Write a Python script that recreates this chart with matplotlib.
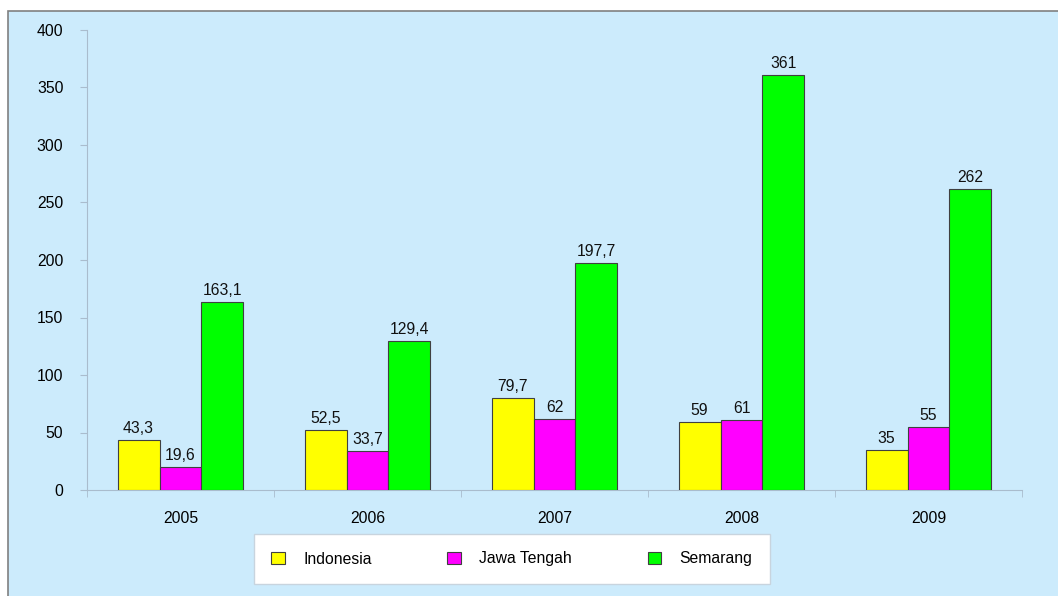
import numpy as np
import matplotlib
matplotlib.use("Agg")
import matplotlib.pyplot as plt
from matplotlib.patches import Rectangle

years = ["2005", "2006", "2007", "2008", "2009"]
series = ["Indonesia", "Jawa Tengah", "Semarang"]
indonesia = [43.3, 52.5, 79.7, 59, 35]
jawa_tengah = [19.6, 33.7, 62, 61, 55]
semarang = [163.1, 129.4, 197.7, 361, 262]
colors = ["#FFFF00", "#FF00FF", "#00FF00"]

plt.rcParams["font.family"] = ["Liberation Sans", "DejaVu Sans"]
plt.rcParams["font.size"] = 11.3

fig = plt.figure(figsize=(10.58, 5.96), dpi=100)
fig.patch.set_facecolor("white")
# light blue chart area with gray frame
fig.patches.append(Rectangle((8 / 1058, -0.05), 1.2, 1 - 11 / 596 + 0.05,
                             transform=fig.transFigure, facecolor="#CCEBFC",
                             edgecolor="#808080", linewidth=1.2, zorder=-10))

ax = fig.add_axes([87 / 1058, 1 - 490 / 596, 935 / 1058, 460 / 596])
ax.set_facecolor("none")

x = np.arange(len(years))
w = 0.224
axis_col = "#A9BCCD"
for i, (name, vals) in enumerate(zip(series, [indonesia, jawa_tengah, semarang])):
    bars = ax.bar(x + (i - 1) * w, vals, w, color=colors[i], edgecolor="#404040",
                  linewidth=0.8, label=name, zorder=3)
    for b, v in zip(bars, vals):
        lbl = f"{v:g}".replace(".", ",")
        ax.text(b.get_x() + b.get_width() / 2, v + 3.5, lbl, ha="center", va="bottom",
                color="#111111")

ax.set_xlim(-0.5, len(years) - 0.5)
ax.set_ylim(0, 400)
ax.set_yticks(range(0, 401, 50))
ax.set_xticks(x)
ax.set_xticklabels(years)
ax.set_xticks(np.arange(-0.5, len(years)), minor=True)
ax.tick_params(axis="x", which="major", length=0, pad=15)
ax.tick_params(axis="x", which="minor", length=5, color=axis_col, direction="out")
ax.tick_params(axis="y", length=5, color=axis_col, pad=12)
for s in ["top", "right"]:
    ax.spines[s].set_visible(False)
for s in ["left", "bottom"]:
    ax.spines[s].set_color(axis_col)

leg = fig.legend(loc="center left", bbox_to_anchor=(254 / 1058, 1 - 559 / 596),
                 ncol=3, frameon=True, fancybox=False, framealpha=1,
                 handlelength=0.85, handleheight=0.85, handletextpad=1.2,
                 columnspacing=4.8, borderpad=1.1, borderaxespad=0)
leg.get_frame().set_edgecolor("#C8D4DE")
leg.get_frame().set_facecolor("white")
leg.get_frame().set_linewidth(1)

fig.savefig("out.png", dpi=100)
